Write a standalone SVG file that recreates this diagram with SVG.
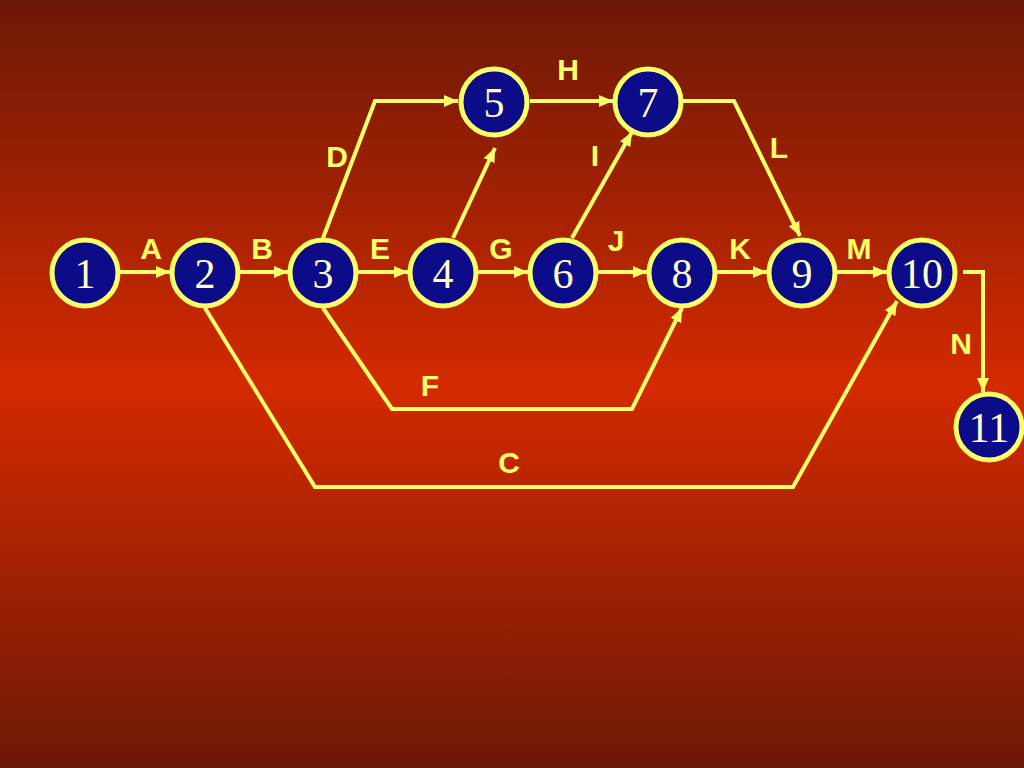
<svg xmlns="http://www.w3.org/2000/svg" width="1024" height="768" viewBox="0 0 1024 768">
<defs>
<linearGradient id="bg" x1="0" y1="0" x2="0" y2="1">
<stop offset="0" stop-color="#6c1806"/>
<stop offset="0.5" stop-color="#d42a00"/>
<stop offset="1" stop-color="#6c1806"/>
</linearGradient>
<marker id="arr" viewBox="0 0 14 12" refX="14" refY="6" markerWidth="14" markerHeight="12" markerUnits="userSpaceOnUse" orient="auto">
<path d="M0,0 L14,6 L0,12 Z" fill="#ffff66"/>
</marker>
<style>
.node circle{fill:#0c0c88;stroke:#ffff66;stroke-width:5}
.node text{font-family:"Liberation Serif","Times New Roman",serif;font-size:42px;fill:#ffffcc;text-anchor:middle}
#connectors path{fill:none;stroke:#ffff66;stroke-width:4;marker-end:url(#arr)}
.lbl{font-family:"Liberation Sans",Arial,sans-serif;font-weight:bold;font-size:30px;fill:#ffff66;text-anchor:middle}
</style>
</defs>
<rect width="1024" height="768" fill="url(#bg)"/>
<g id="connectors">
<path d="M120,272 L170,272"/>
<path d="M240,272 L288,272"/>
<path d="M358,272 L408,272"/>
<path d="M478,272 L528,272"/>
<path d="M598,272 L647,272"/>
<path d="M717,272 L767,272"/>
<path d="M837,272 L887,272"/>
<path d="M963,272 L983,272 L983,392"/>
<path d="M323,238 L375,101 L458,101"/>
<path d="M530,101 L613,101"/>
<path d="M683,101 L734,101 L800,236"/>
<path d="M453,238 L495,148"/>
<path d="M572,238 L632,132"/>
<path d="M323,308 L392,409 L632,409 L682,308"/>
<path d="M205,308 L315,487 L793,487 L897,301"/>
</g>
<g id="labels">
<text class="lbl" x="151" y="259">A</text>
<text class="lbl" x="262" y="259">B</text>
<text class="lbl" x="380" y="259">E</text>
<text class="lbl" x="501" y="259">G</text>
<text class="lbl" x="616" y="251">J</text>
<text class="lbl" x="740" y="259">K</text>
<text class="lbl" x="859" y="259">M</text>
<text class="lbl" x="568" y="80">H</text>
<text class="lbl" x="337" y="167">D</text>
<text class="lbl" x="595" y="166">I</text>
<text class="lbl" x="779" y="158">L</text>
<text class="lbl" x="961" y="354">N</text>
<text class="lbl" x="430" y="396">F</text>
<text class="lbl" x="509" y="473">C</text>
</g>
<g id="n1" class="node"><circle cx="85" cy="273" r="33"/><text x="85" y="288">1</text></g>
<g id="n2" class="node"><circle cx="205" cy="273" r="33"/><text x="205" y="288">2</text></g>
<g id="n3" class="node"><circle cx="323" cy="273" r="33"/><text x="323" y="288">3</text></g>
<g id="n4" class="node"><circle cx="443" cy="273" r="33"/><text x="443" y="288">4</text></g>
<g id="n6" class="node"><circle cx="563" cy="273" r="33"/><text x="563" y="288">6</text></g>
<g id="n8" class="node"><circle cx="682" cy="273" r="33"/><text x="682" y="288">8</text></g>
<g id="n9" class="node"><circle cx="802" cy="273" r="33"/><text x="802" y="288">9</text></g>
<g id="n10" class="node"><circle cx="922" cy="273" r="33"/><text x="922" y="288">10</text></g>
<g id="n11" class="node"><circle cx="989" cy="427" r="33"/><text x="989" y="442">11</text></g>
<g id="n5" class="node"><circle cx="494" cy="102" r="33"/><text x="494" y="117">5</text></g>
<g id="n7" class="node"><circle cx="648" cy="102" r="33"/><text x="648" y="117">7</text></g>
</svg>
